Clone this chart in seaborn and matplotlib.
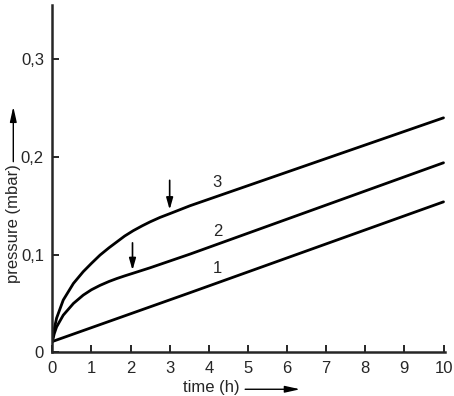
import numpy as np
import matplotlib
matplotlib.use("Agg")
import matplotlib.pyplot as plt
import pandas as pd
import seaborn as sns

# values
t1 = [0.0, 3.52, 10.0]
p1 = [0.011, 0.061, 0.154]

t2 = [0.0, 0.05, 0.11, 0.28, 0.54, 0.79, 1.0, 1.22, 1.45, 1.65, 1.85, 2.07, 2.5, 3.01, 3.52, 10.0]
p2 = [0.011, 0.019, 0.026, 0.038, 0.050, 0.0585, 0.064, 0.0685, 0.0725, 0.0755, 0.0782, 0.081,
      0.0865, 0.0935, 0.1005, 0.194]

t3 = [0.0, 0.05, 0.11, 0.28, 0.54, 0.79, 1.0, 1.22, 1.45, 1.65, 1.85, 2.07, 2.3, 2.5, 2.75,
      3.01, 3.52, 10.0]
p3 = [0.011, 0.024, 0.035, 0.0535, 0.0705, 0.0825, 0.091, 0.0995, 0.107, 0.113, 0.119, 0.1245,
      0.1295, 0.1335, 0.138, 0.142, 0.150, 0.240]

curve_names = ["1", "2", "3"]
label_pos = [(4.22, 0.086), (4.22, 0.124), (4.22, 0.174)]
marks = [(2.05, 0.112, 0.084), (3.0, 0.176, 0.146)]  # x, arrow top, arrow tip

x_ticks = list(range(11))
y_ticks = [0, 0.1, 0.2, 0.3]
y_tick_labels = ["0", "0,1", "0,2", "0,3"]

df = pd.concat([
    pd.DataFrame({"time": t1, "pressure": p1, "curve": "1"}),
    pd.DataFrame({"time": t2, "pressure": p2, "curve": "2"}),
    pd.DataFrame({"time": t3, "pressure": p3, "curve": "3"}),
])

sns.set_style("ticks")
plt.rcParams['font.family'] = ['Liberation Sans Narrow', 'Liberation Sans', 'DejaVu Sans']

fig = plt.figure(figsize=(4.54, 3.96), dpi=100)
ax = fig.add_axes([0.1152, 0.1104, 0.866, 0.877])

sns.lineplot(data=df, x="time", y="pressure", units="curve", estimator=None,
             color="black", linewidth=2.0, ax=ax, sort=False)
for line in ax.lines:
    line.set_solid_joinstyle("round")

# curve numbers
for name, (x, y) in zip(curve_names, label_pos):
    ax.text(x, y, name, fontsize=12, ha="center", va="center")

# little arrows marking the knees
for x, top, tip in marks:
    ax.annotate("", xy=(x, tip), xytext=(x, top),
                arrowprops=dict(arrowstyle="-|>,head_length=0.7,head_width=0.2",
                                color="black", lw=1.2, shrinkA=0, shrinkB=0))

ax.set_xlim(0, 10.05)
ax.set_ylim(0, 0.3555)
ax.set_xticks(x_ticks)
ax.set_yticks(y_ticks)
ax.set_yticklabels(y_tick_labels)
ax.set_xlabel("")
ax.set_ylabel("")
ax.tick_params(direction="in", length=5, width=1.4, labelsize=12, pad=6)
sns.despine(ax=ax)
for s in ["left", "bottom"]:
    ax.spines[s].set_linewidth(1.8)

# axis titles with arrows
fig.text(0.4648, 0.0215, "time (h)", fontsize=12, ha="center", va="center")
ax.annotate("", xy=(0.661, 0.0170), xytext=(0.540, 0.0170), xycoords="figure fraction",
            arrowprops=dict(arrowstyle="-|>,head_length=0.9,head_width=0.2",
                            color="black", lw=1.0, shrinkA=0, shrinkB=0))
fig.text(0.0293, 0.4343, "pressure (mbar)", fontsize=12, rotation=90,
         ha="center", va="center")
ax.annotate("", xy=(0.0293, 0.7306), xytext=(0.0293, 0.5917), xycoords="figure fraction",
            arrowprops=dict(arrowstyle="-|>,head_length=0.9,head_width=0.2",
                            color="black", lw=1.0, shrinkA=0, shrinkB=0))

fig.savefig("out.png", dpi=100)
